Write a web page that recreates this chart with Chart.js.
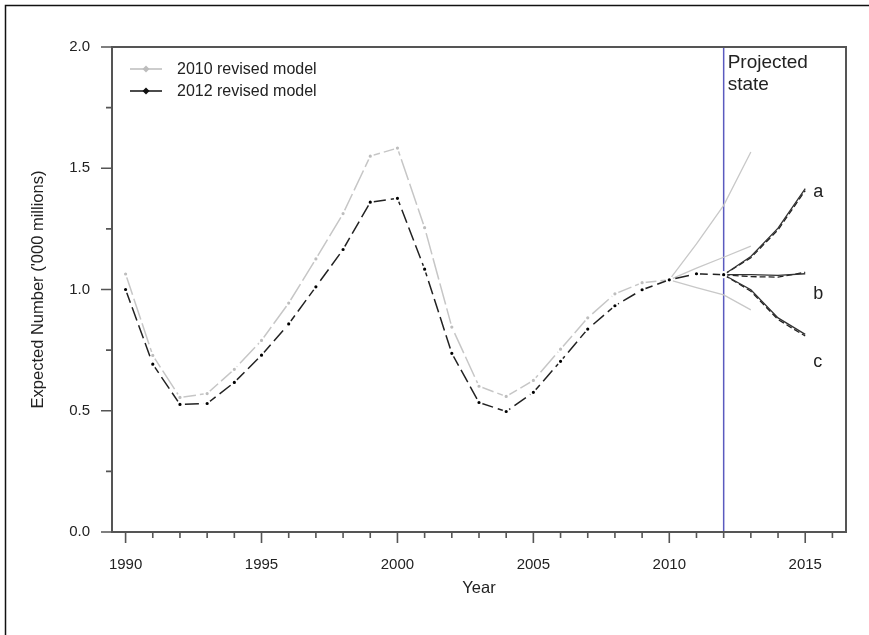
<!DOCTYPE html>
<html>
<head>
<meta charset="utf-8">
<script src="https://cdn.jsdelivr.net/npm/chart.js@4.4.1/dist/chart.umd.min.js"></script>
<style>
  body { margin: 0; background: #fff; }
  canvas { display: block; }
</style>
</head>
<body>
<canvas id="chart" width="869" height="635"></canvas>
<script>
// Expected number, '000 millions

const years2010 = [1990, 1991, 1992, 1993, 1994, 1995, 1996, 1997, 1998, 1999, 2000,
                   2001, 2002, 2003, 2004, 2005, 2006, 2007, 2008, 2009, 2010];
const model2010 = [1.064, 0.728, 0.555, 0.571, 0.671, 0.790, 0.944, 1.126, 1.313, 1.550, 1.583,
                   1.255, 0.845, 0.601, 0.559, 0.625, 0.754, 0.883, 0.982, 1.028, 1.040];

const years2012 = [1990, 1991, 1992, 1993, 1994, 1995, 1996, 1997, 1998, 1999, 2000,
                   2001, 2002, 2003, 2004, 2005, 2006, 2007, 2008, 2009, 2010, 2011, 2012];
const model2012 = [1.000, 0.692, 0.526, 0.530, 0.617, 0.729, 0.858, 1.011, 1.165, 1.360, 1.376,
                   1.084, 0.737, 0.534, 0.497, 0.576, 0.704, 0.837, 0.933, 0.999, 1.040, 1.065, 1.061];

// projections of the 2010 model
const projYears2010 = [2010, 2011, 2012, 2013];
const proj2010High = [1.040, 1.188, 1.347, 1.567];
const proj2010Mid  = [1.040, 1.088, 1.133, 1.179];
const proj2010Low  = [1.040, 1.008, 0.978, 0.916];

// projections of the 2012 model (a, b, c), each drawn twice
const projYears2012 = [2012, 2013, 2014, 2015];
const projA      = [1.061, 1.136, 1.253, 1.416];
const projAalt   = [1.061, 1.131, 1.246, 1.408];
const projB      = [1.061, 1.061, 1.058, 1.065];
const projBalt   = [1.061, 1.053, 1.051, 1.071];
const projC      = [1.061, 0.999, 0.883, 0.815];
const projCalt   = [1.061, 0.993, 0.876, 0.808];

const xTicks = [1990, 1995, 2000, 2005, 2010, 2015];
const yTicks = [0.0, 0.5, 1.0, 1.5, 2.0];
const projLabels = ['a', 'b', 'c'];
const projLabelY = [1.40, 0.98, 0.70];

function pts(xs, ys) {
    return xs.map((x, i) => ({ x: x, y: ys[i] }));
}

const FONT = '"Liberation Sans", Arial, sans-serif';

function projLine(xs, ys, color, dash) {
    return {
        data: pts(xs, ys),
        borderColor: color,
        borderWidth: 1.3,
        borderDash: dash || [],
        pointRadius: 0,
        fill: false
    };
}

// blue line at the start of the projected state
const projectedLine = {
    id: 'projectedLine',
    beforeDatasetsDraw(chart) {
        const ctx = chart.ctx;
        const area = chart.chartArea;
        const x = chart.scales.x.getPixelForValue(2012);
        ctx.save();
        ctx.strokeStyle = '#5a5abf';
        ctx.lineWidth = 1.5;
        ctx.beginPath();
        ctx.moveTo(x, area.top);
        ctx.lineTo(x, area.bottom);
        ctx.stroke();
        ctx.restore();
    }
};

// R-style box, tick marks, titles, legend and labels
const decorations = {
    id: 'decorations',
    afterDraw(chart) {
        const ctx = chart.ctx;
        const area = chart.chartArea;
        const xs = chart.scales.x;
        const ys = chart.scales.y;
        ctx.save();

        // outer frame
        ctx.strokeStyle = '#111';
        ctx.lineWidth = 1.5;
        ctx.strokeRect(5.5, 5.5, 1000, 1000);

        // plot box
        ctx.strokeStyle = '#555';
        ctx.lineWidth = 2;
        ctx.strokeRect(area.left, area.top, area.right - area.left, area.bottom - area.top);

        // tick marks
        ctx.lineWidth = 1.6;
        ctx.beginPath();
        for (let yr = 1990; yr <= 2016; yr++) {
            const px = xs.getPixelForValue(yr);
            const len = yr % 5 === 0 ? 11 : 6;
            ctx.moveTo(px, area.bottom);
            ctx.lineTo(px, area.bottom + len);
        }
        for (let k = 0; k <= 8; k++) {
            const v = k * 0.25;
            const py = ys.getPixelForValue(v);
            const len = k % 2 === 0 ? 11 : 6;
            ctx.moveTo(area.left, py);
            ctx.lineTo(area.left - len, py);
        }
        ctx.stroke();

        // axis titles
        ctx.fillStyle = '#222';
        ctx.font = '16.5px ' + FONT;
        ctx.textAlign = 'center';
        ctx.textBaseline = 'middle';
        ctx.fillText('Year', (area.left + area.right) / 2, 588);
        ctx.save();
        ctx.translate(38, (area.top + area.bottom) / 2);
        ctx.rotate(-Math.PI / 2);
        ctx.fillText("Expected Number ('000 millions)", 0, 0);
        ctx.restore();

        // legend
        const legend = [
            { text: '2010 revised model', color: '#bdbdbd', y: 69 },
            { text: '2012 revised model', color: '#111', y: 91 }
        ];
        legend.forEach(item => {
            ctx.strokeStyle = item.color;
            ctx.lineWidth = 1.5;
            ctx.beginPath();
            ctx.moveTo(130, item.y);
            ctx.lineTo(162, item.y);
            ctx.stroke();
            ctx.fillStyle = item.color;
            ctx.beginPath();
            ctx.moveTo(146, item.y - 3.5);
            ctx.lineTo(149.5, item.y);
            ctx.lineTo(146, item.y + 3.5);
            ctx.lineTo(142.5, item.y);
            ctx.closePath();
            ctx.fill();
            ctx.fillStyle = '#222';
            ctx.font = '16px ' + FONT;
            ctx.textAlign = 'left';
            ctx.fillText(item.text, 177, item.y + 1);
        });

        // projected state note
        const bx = xs.getPixelForValue(2012);
        ctx.font = '19px ' + FONT;
        ctx.fillStyle = '#222';
        ctx.textAlign = 'left';
        ctx.fillText('Projected', bx + 4, 63);
        ctx.fillText('state', bx + 4, 85);

        // branch labels a, b, c
        const lx = xs.getPixelForValue(2015) + 8;
        ctx.font = '18px ' + FONT;
        projLabels.forEach((t, i) => {
            ctx.fillText(t, lx, ys.getPixelForValue(projLabelY[i]));
        });

        ctx.restore();
    }
};

new Chart(document.getElementById('chart').getContext('2d'), {
    type: 'line',
    data: {
        datasets: [
            {
                data: pts(years2012, model2012),
                borderColor: '#222',
                borderWidth: 1.5,
                borderDash: [14, 5],
                pointRadius: 2.6,
                pointBackgroundColor: '#000',
                pointBorderColor: '#fff',
                pointBorderWidth: 2,
                fill: false
            },
            {
                data: pts(years2010, model2010),
                borderColor: '#c6c6c6',
                borderWidth: 1.5,
                borderDash: [22, 4],
                pointRadius: 2.6,
                pointBackgroundColor: '#bdbdbd',
                pointBorderColor: '#fff',
                pointBorderWidth: 2,
                fill: false
            },
            projLine(projYears2012, projA, '#333'),
            projLine(projYears2012, projAalt, '#222', [6, 3]),
            projLine(projYears2012, projB, '#333'),
            projLine(projYears2012, projBalt, '#222', [6, 3]),
            projLine(projYears2012, projC, '#333'),
            projLine(projYears2012, projCalt, '#222', [6, 3]),
            projLine(projYears2010, proj2010High, '#c8c8c8'),
            projLine(projYears2010, proj2010Mid, '#c8c8c8'),
            projLine(projYears2010, proj2010Low, '#c8c8c8')
        ]
    },
    options: {
        responsive: false,
        animation: false,
        events: [],
        layout: { padding: { left: 0, top: 47, right: 23, bottom: 0 } },
        plugins: {
            legend: { display: false },
            title: { display: false },
            tooltip: { enabled: false }
        },
        scales: {
            x: {
                type: 'linear',
                min: 1989.5,
                max: 2016.5,
                afterFit(s) { s.height = 103; },
                afterBuildTicks(s) { s.ticks = xTicks.map(v => ({ value: v })); },
                grid: { display: false, drawTicks: false },
                border: { display: false },
                ticks: {
                    autoSkip: false,
                    maxRotation: 0,
                    padding: 24,
                    color: '#222',
                    font: { family: FONT, size: 15 },
                    callback: v => String(v)
                }
            },
            y: {
                min: 0,
                max: 2,
                afterFit(s) { s.width = 112; },
                afterBuildTicks(s) { s.ticks = yTicks.map(v => ({ value: v })); },
                grid: { display: false, drawTicks: false },
                border: { display: false },
                ticks: {
                    autoSkip: false,
                    padding: 22,
                    color: '#222',
                    font: { family: FONT, size: 15 },
                    callback: v => v.toFixed(1)
                }
            }
        }
    },
    plugins: [projectedLine, decorations]
});
</script>
</body>
</html>
